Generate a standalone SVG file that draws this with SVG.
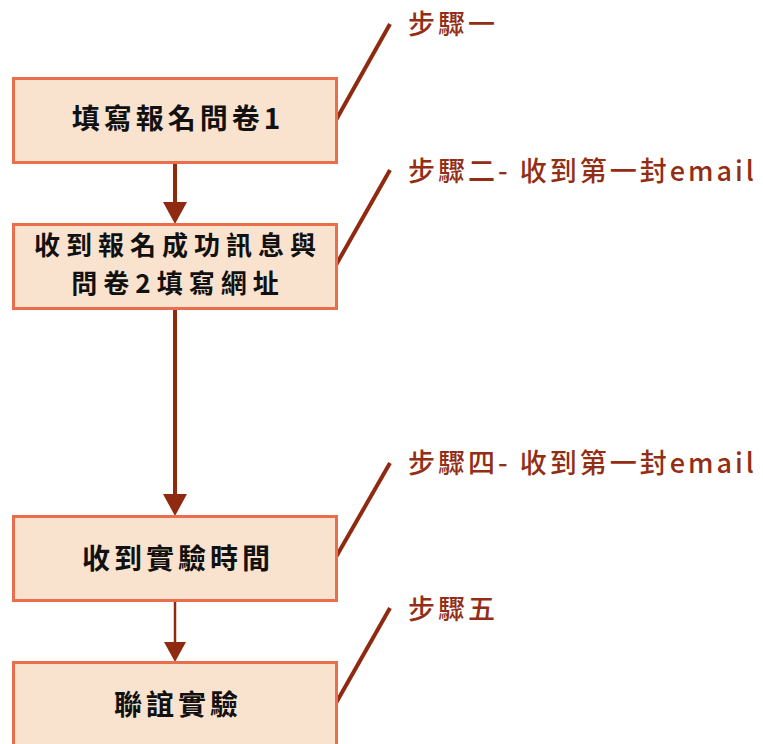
<svg xmlns="http://www.w3.org/2000/svg" width="763" height="744" viewBox="0 0 763 744">
<style>
.box{fill:#f9e3cf;stroke:#ea6e4c;stroke-width:3}
.t{font-family:"Noto Sans CJK TC","Noto Sans CJK SC",sans-serif;font-weight:bold;font-size:28px;fill:#111;text-anchor:middle;letter-spacing:4px}
.t2{font-size:26px;letter-spacing:6px}
.lbl{font-family:"Noto Sans CJK TC","Noto Sans CJK SC",sans-serif;font-weight:500;font-size:27px;fill:#932e14;letter-spacing:3px}
.ln{stroke:#8f2a10;fill:none}
</style>
<rect width="763" height="744" fill="#fff"/>
<g id="connectors">
<line class="ln" x1="175" y1="163" x2="175" y2="204" stroke-width="4"/>
<path d="M163,202 L187,202 L175,224 z" fill="#8f2a10"/>
<line class="ln" x1="175" y1="309" x2="175" y2="496" stroke-width="4"/>
<path d="M163,494 L187,494 L175,516 z" fill="#8f2a10"/>
<line class="ln" x1="175" y1="601" x2="175" y2="644" stroke-width="2.5"/>
<path d="M164,642 L186,642 L175,662 z" fill="#8f2a10"/>
<line class="ln" x1="336" y1="120" x2="390" y2="24" stroke-width="4"/>
<line class="ln" x1="336" y1="265" x2="390" y2="170" stroke-width="4"/>
<line class="ln" x1="336" y1="557" x2="390" y2="463" stroke-width="4"/>
<line class="ln" x1="336" y1="703" x2="390" y2="608" stroke-width="4"/>
</g>
<g id="n1">
<rect class="box" x="13.5" y="78.5" width="323" height="84"/>
<text class="t" x="178" y="129">填寫報名問卷1</text>
</g>
<g id="n2">
<rect class="box" x="13.5" y="224.5" width="323" height="84"/>
<text class="t t2" x="178" y="255">收到報名成功訊息與</text>
<text class="t t2" x="178" y="293">問卷2填寫網址</text>
</g>
<g id="n3">
<rect class="box" x="13.5" y="516.5" width="323" height="84"/>
<text class="t" x="178" y="569">收到實驗時間</text>
</g>
<g id="n4">
<rect class="box" x="13.5" y="662.5" width="323" height="90"/>
<text class="t" x="178" y="715">聯誼實驗</text>
</g>
<g id="labels">
<text class="lbl" x="408" y="34">步驟一</text>
<text class="lbl" x="408" y="181">步驟二- 收到第一封email</text>
<text class="lbl" x="408" y="473">步驟四- 收到第一封email</text>
<text class="lbl" x="408" y="619">步驟五</text>
</g>
</svg>
